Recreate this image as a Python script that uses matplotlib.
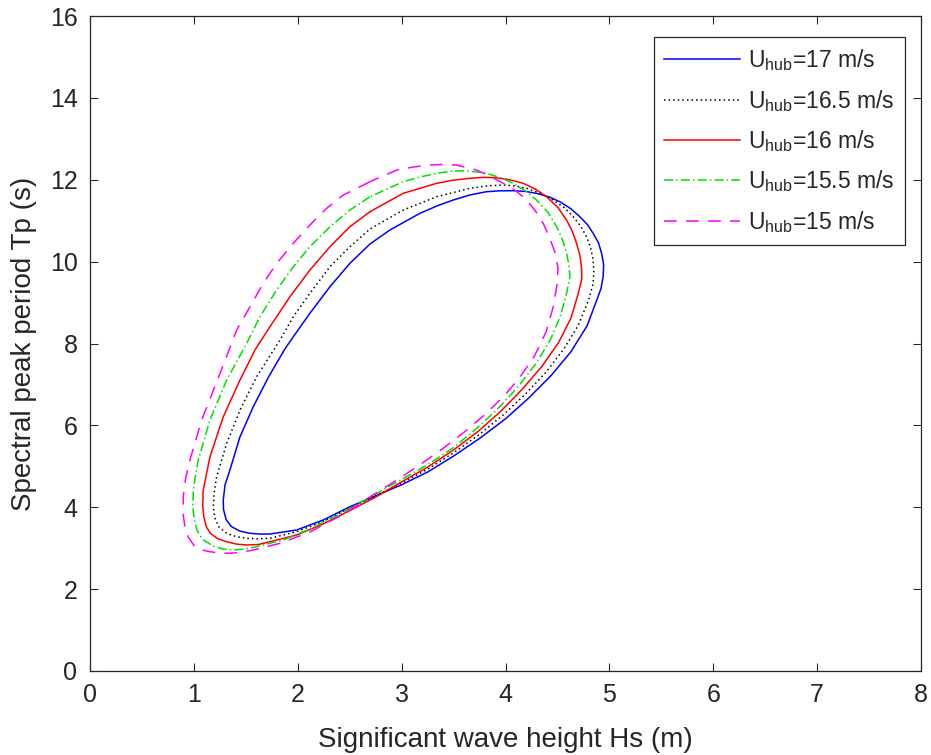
import numpy as np
import matplotlib
matplotlib.use("Agg")
import matplotlib.pyplot as plt

# -------- DATA --------
# closed environmental contours, Hs (m) vs Tp (s), one per hub wind speed
hs_17 = [2.724, 3.00, 3.25, 3.50, 3.75, 4.00, 4.22, 4.44, 4.63, 4.785, 4.88, 4.92, 4.94, 4.945,
         4.925, 4.895, 4.844, 4.79, 4.716, 4.63, 4.524, 4.42, 4.299, 4.19, 4.074, 3.95, 3.818,
         3.66, 3.497, 3.34, 3.176, 2.887, 2.695, 2.502, 2.310, 2.117, 1.957, 1.87, 1.72, 1.572,
         1.444, 1.347, 1.30, 1.283, 1.285, 1.31, 1.36, 1.44, 1.54, 1.64, 1.732, 1.989, 2.245, 2.502]
tp_17 = [4.25, 4.55, 4.86, 5.25, 5.68, 6.16, 6.66, 7.22, 7.80, 8.43, 9.07, 9.35, 9.631, 9.92,
         10.203, 10.46, 10.691, 10.90, 11.097, 11.29, 11.463, 11.58, 11.668, 11.715, 11.732, 11.73, 11.708,
         11.63, 11.505, 11.36, 11.180, 10.772, 10.430, 9.958, 9.387, 8.737, 8.166, 7.841, 7.188, 6.456,
         5.723, 4.910, 4.55, 4.177, 3.95, 3.70, 3.53, 3.42, 3.363, 3.345, 3.346, 3.444, 3.688, 4.013]

hs_165 = [2.743, 3.00, 3.25, 3.50, 3.75, 3.98, 4.19, 4.39, 4.56, 4.70, 4.80, 4.844, 4.85, 4.844,
          4.82, 4.781, 4.725, 4.652, 4.565, 4.459, 4.335, 4.203, 4.09, 3.978, 3.82, 3.657, 3.337,
          3.015, 2.695, 2.502, 2.310, 2.117, 1.957, 1.829, 1.604, 1.444, 1.316, 1.219, 1.195, 1.187,
          1.20, 1.24, 1.316, 1.41, 1.508, 1.62, 1.732, 1.989, 2.245, 2.502]
tp_165 = [4.275, 4.59, 4.93, 5.33, 5.78, 6.26, 6.76, 7.30, 7.86, 8.44, 9.06, 9.470, 9.75, 10.039,
          10.33, 10.608, 10.86, 11.097, 11.32, 11.505, 11.67, 11.790, 11.85, 11.871, 11.85, 11.790, 11.585,
          11.260, 10.796, 10.364, 9.875, 9.226, 8.654, 8.085, 7.188, 6.375, 5.562, 4.746, 4.35, 4.013,
          3.75, 3.52, 3.363, 3.28, 3.241, 3.23, 3.241, 3.403, 3.652, 3.981]

hs_16 = [2.695, 2.502, 2.310, 2.117, 1.925, 1.732, 1.588, 1.444, 1.283, 1.155, 1.090, 1.085, 1.095,
         1.12, 1.16, 1.23, 1.316, 1.41, 1.508, 1.62, 1.732, 1.989, 2.245, 2.502, 2.743, 3.00,
         3.25, 3.50, 3.74, 3.96, 4.16, 4.35, 4.51, 4.63, 4.70, 4.735, 4.732, 4.715, 4.684,
         4.645, 4.588, 4.505, 4.396, 4.29, 4.170, 4.04, 3.914, 3.79, 3.657, 3.50, 3.337, 3.015]
tp_16 = [11.219, 10.853, 10.364, 9.795, 9.143, 8.410, 7.841, 7.108, 6.212, 5.234, 4.421, 4.05, 3.769,
         3.52, 3.36, 3.23, 3.158, 3.10, 3.078, 3.09, 3.158, 3.322, 3.591, 3.920, 4.238, 4.62,
         4.98, 5.40, 5.86, 6.36, 6.88, 7.44, 8.02, 8.62, 9.22, 9.59, 9.875, 10.16, 10.447,
         10.73, 11.016, 11.32, 11.585, 11.77, 11.913, 12.00, 12.049, 12.06, 12.035, 11.99, 11.913, 11.668]

hs_155 = [2.695, 2.502, 2.310, 2.117, 1.957, 1.797, 1.636, 1.508, 1.316, 1.155, 1.042, 1.01, 0.994,
          0.99, 1.005, 1.03, 1.08, 1.187, 1.28, 1.379, 1.49, 1.604, 1.860, 2.117, 2.406, 2.647,
          3.00, 3.25, 3.50, 3.72, 3.93, 4.12, 4.29, 4.43, 4.53, 4.59, 4.620, 4.61, 4.588,
          4.55, 4.492, 4.41, 4.299, 4.19, 4.074, 3.95, 3.818, 3.626, 3.48, 3.337, 3.18, 3.015]
tp_155 = [11.585, 11.260, 10.853, 10.364, 9.875, 9.306, 8.654, 8.004, 7.108, 6.131, 5.154, 4.70, 4.341,
          4.0, 3.688, 3.44, 3.22, 3.05, 2.98, 2.956, 2.98, 3.036, 3.200, 3.468, 3.835, 4.177,
          4.68, 5.04, 5.46, 5.92, 6.42, 6.94, 7.50, 8.08, 8.68, 9.25, 9.631, 9.92, 10.203,
          10.53, 10.853, 11.20, 11.505, 11.73, 11.913, 12.05, 12.157, 12.220, 12.21, 12.157, 12.07, 11.952]

hs_15 = [2.695, 2.438, 2.278, 2.117, 1.957, 1.797, 1.668, 1.540, 1.412, 1.283, 1.075, 0.962, 0.92,
         0.898, 0.895, 0.914, 0.945, 1.00, 1.07, 1.155, 1.25, 1.347, 1.46, 1.572, 1.829, 2.117,
         2.406, 2.60, 2.80, 3.00, 3.20, 3.40, 3.60, 3.80, 3.98, 4.14, 4.28, 4.39, 4.46,
         4.50, 4.505, 4.48, 4.42, 4.363, 4.29, 4.203, 4.10, 3.978, 3.85, 3.722, 3.529, 3.40,
         3.272, 3.11, 2.952]
tp_15 = [11.952, 11.627, 11.302, 10.894, 10.447, 9.958, 9.470, 8.898, 8.329, 7.474, 6.131, 5.154, 4.70,
         4.257, 3.85, 3.525, 3.27, 3.07, 2.96, 2.914, 2.88, 2.875, 2.90, 2.956, 3.119, 3.395,
         3.786, 4.10, 4.42, 4.74, 5.08, 5.44, 5.83, 6.26, 6.70, 7.18, 7.70, 8.28, 8.90,
         9.50, 9.85, 10.2, 10.61, 10.935, 11.23, 11.505, 11.73, 11.913, 12.09, 12.237, 12.359, 12.375,
         12.359, 12.31, 12.237]

labels = [r"U$_{\mathregular{hub}}$=17 m/s",
          r"U$_{\mathregular{hub}}$=16.5 m/s",
          r"U$_{\mathregular{hub}}$=16 m/s",
          r"U$_{\mathregular{hub}}$=15.5 m/s",
          r"U$_{\mathregular{hub}}$=15 m/s"]

# -------- STYLE --------
plt.rcParams["font.family"] = ["Liberation Sans", "DejaVu Sans"]
plt.rcParams["mathtext.fontset"] = "custom"
plt.rcParams["mathtext.rm"] = "Liberation Sans"
GRAY = "#262626"

series = [
    (hs_17, tp_17, dict(color="#0000ff", linestyle="-")),
    (hs_165, tp_165, dict(color="black", dashes=(1, 2))),
    (hs_16, tp_16, dict(color="#ff0000", linestyle="-")),
    (hs_155, tp_155, dict(color="#00e000", dashes=(6, 2, 1, 2))),
    (hs_15, tp_15, dict(color="#ff00ff", dashes=(8.4, 6))),
]

fig = plt.figure(figsize=(9.31, 7.55), dpi=100)
ax = fig.add_axes([90 / 931, 1 - 671 / 755, 831 / 931, 655 / 755])

for (hs, tp, style), lab in zip(series, labels):
    # close each contour by repeating its first point
    ax.plot(hs + hs[:1], tp + tp[:1], linewidth=1.1, label=lab, **style)

ax.set_xlim(0, 8)
ax.set_ylim(0, 16)
ax.set_xticks(range(0, 9))
ax.set_yticks(range(0, 17, 2))

ax.tick_params(direction="in", length=6, width=0.75, top=True, right=True,
               labelsize=18, colors=GRAY, pad=9)
for sp in ax.spines.values():
    sp.set_color(GRAY)
    sp.set_linewidth(0.9)

ax.set_xlabel("Significant wave height Hs (m)", fontsize=20, color=GRAY, labelpad=14)
ax.set_ylabel("Spectral peak period Tp (s)", fontsize=20, color=GRAY, labelpad=9)

leg = ax.legend(loc="upper left", bbox_to_anchor=(654 / 931, 1 - 37 / 755),
                bbox_transform=fig.transFigure, borderaxespad=0, fontsize=16.5,
                handlelength=3.3, handletextpad=0.35, borderpad=0.45,
                labelspacing=0.63, fancybox=False, framealpha=1)
leg.get_frame().set_edgecolor(GRAY)
leg.get_frame().set_linewidth(0.9)
for t in leg.get_texts():
    t.set_color(GRAY)

fig.savefig("out.png", dpi=100)
